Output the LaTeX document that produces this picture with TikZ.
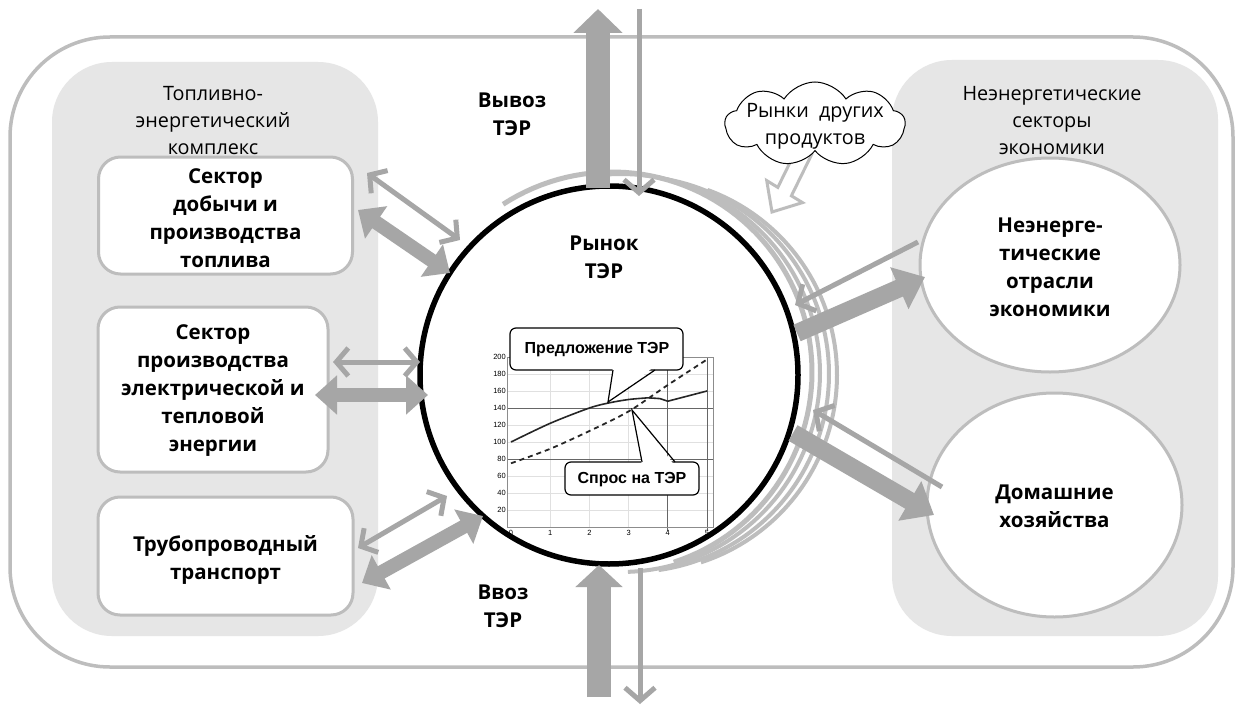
\documentclass[tikz,border=0pt]{standalone}
\usepackage{fontspec}
\setmainfont{Open Sans}
\newfontfamily\arialf{Liberation Sans}
\usetikzlibrary{arrows.meta,shapes.geometric,shapes.symbols,calc}
\definecolor{arrgray}{HTML}{A6A6A6}
\definecolor{linegray}{HTML}{BDBDBD}
\definecolor{panelgray}{HTML}{E6E6E6}
\begin{document}
\begin{tikzpicture}[x=1pt,y=-1pt,
  lbl/.style={font=\fontsize{20.5}{28}\selectfont\bfseries, align=center, inner sep=0pt},
  ttl/.style={font=\fontsize{19.8}{27}\selectfont, align=center, inner sep=0pt},
  sectorbox/.style={draw=linegray, line width=3pt, fill=white, rounded corners=22pt, rectangle, inner sep=0pt},
  sectorell/.style={draw=linegray, line width=3pt, fill=white, ellipse, inner sep=0pt},
  panel/.style={fill=panelgray, rounded corners=60pt},
  thickarr/.style={draw=arrgray, line width=14pt, {Triangle[length=22pt,width=38pt]}-{Triangle[length=22pt,width=38pt]}},
  thickone/.style={draw=arrgray, line width=18pt, -{Triangle[length=28pt,width=44pt]}},
  thinarr/.style={draw=arrgray, line width=5pt, line cap=round, {Straight Barb[length=12pt,width=28pt]}-{Straight Barb[length=12pt,width=28pt]}},
  thinone/.style={draw=arrgray, line width=5pt, -{Straight Barb[length=13pt,width=30pt]}},
  ringarc/.style={draw=linegray, line width=4pt},
  gridl/.style={draw=black!12, line width=0.6pt},
  gridd/.style={draw=black!60, line width=0.8pt},
  axl/.style={font=\arialf\fontsize{7.5}{8}\selectfont, inner sep=1pt},
  callbox/.style={draw=black, line width=1.2pt, fill=white, rounded corners=6pt},
  calltxt/.style={font=\arialf\bfseries\fontsize{16}{18}\selectfont, inner sep=0pt}
]
\useasboundingbox (0,0) rectangle (1239,706);
\fill[white] (0,0) rectangle (1239,706);

% outer frame
\draw[linegray, line width=3.5pt, rounded corners=100pt] (10,37) rectangle (1233,667);

% panels
\fill[panel] (52,62) rectangle (378,636);
\fill[panel] (892,60) rectangle (1218,636);

% panel titles
\node[ttl] (tek) at (213,121) {Топливно-\\энергетический\\комплекс};
\node[ttl] (nes) at (1052,121) {Неэнергетические\\секторы\\экономики};

% sector boxes
\node[sectorbox, minimum width=254pt, minimum height=117pt] (b1) at (225.5,215.5) {};
\node[lbl] at (225.5,218) {Сектор\\добычи и\\производства\\топлива};
\node[sectorbox, minimum width=230pt, minimum height=165pt] (b2) at (213,389.5) {};
\node[lbl] at (213,391) {Сектор\\производства\\электрической и\\тепловой\\энергии};
\node[sectorbox, minimum width=255pt, minimum height=118pt] (b3) at (225.5,556) {};
\node[lbl] at (225.5,560) {Трубопроводный\\транспорт};

% right ellipses
\node[sectorell, minimum width=260pt, minimum height=214pt] (e1) at (1050,265) {};
\node[lbl] at (1050,267) {Неэнерге-\\тические\\отрасли\\экономики};
\node[sectorell, minimum width=255pt, minimum height=224pt] (e2) at (1054.5,505) {};
\node[lbl] at (1054.5,506) {Домашние\\хозяйства};

% gray rings around market
\draw[ringarc, line width=5pt] plot[domain=123:-72, samples=80] ({612+200*cos(\x)},{372-200*sin(\x)});
\draw[ringarc] plot[domain=95:-88, samples=80] ({621+199*cos(\x)},{373-199*sin(\x)});
\draw[ringarc] plot[domain=82:-82, samples=80] ({631+198*cos(\x)},{374-198*sin(\x)});
\draw[ringarc] plot[domain=70:-72, samples=80] ({640+197*cos(\x)},{375-197*sin(\x)});

% market circle
\node[circle, fill=white, minimum size=378pt, inner sep=0pt] (mkt) at (609,375) {};

% chart
\foreach \v in {20,40,...,200} \draw[gridl] (507,{527-0.85*\v}) -- (713,{527-0.85*\v});
\foreach \k in {1,2,3} \draw[gridl] ({511+39.2*\k},357) -- ({511+39.2*\k},527);
\draw[gridd] (507,408) -- (713,408);
\draw[gridd] (507,459) -- (713,459);
\draw[gridd] (667.8,357) -- (667.8,531);
\draw[gridd] (707,357) -- (707,531);
\draw[draw=black!45, line width=0.8pt] (507,357) rectangle (713,527);
\foreach \v in {20,40,...,200} \node[axl, anchor=east] at (507,{527-0.85*\v}) {\v};
\foreach \k in {0,...,5} \node[axl, anchor=north] at ({511+39.2*\k},529) {\k};
\draw[black!85, line width=1.6pt] plot[smooth] coordinates {(511,442) (550.2,423.3) (589.4,408) (609,402.9) (628.6,399.5) (648.2,397.8)} -- (660,398.6) -- (667.8,401.2) -- (707,391);
\draw[black!85, line width=1.8pt, dash pattern=on 5pt off 4pt] plot[smooth] coordinates {(511,463.3) (550.2,448.8) (589.4,431) (628.6,411.4) (667.8,385) (707,359.5)};

% callouts
\draw[callbox] (510,328) rectangle (683,370);
\fill[white] (613,366) -- (608,402) -- (655,366) -- cycle;
\draw[black, line width=1.2pt] (613,370) -- (608,402) -- (655,370);
\node[calltxt] (sup) at (597,350) {Предложение ТЭР};
\draw[callbox] (565,462) rectangle (699,495);
\fill[white] (642,466) -- (632,410) -- (675,466) -- cycle;
\draw[black, line width=1.2pt] (642,462) -- (632,410) -- (675,462);
\node[calltxt] (dem) at (632,479.5) {Спрос на ТЭР};

% market circle outline on top
\draw[black, line width=5.5pt] (mkt.center) circle[radius=189pt];
\node[lbl] (mkttxt) at (604,257) {Рынок\\ТЭР};

% left arrows
\coordinate (l1a) at (367,173); \coordinate (l1b) at (460,240);
\coordinate (l1c) at (358,210); \coordinate (l1d) at (450,273);
\coordinate (l2a) at (333,362); \coordinate (l2b) at (420,362);
\coordinate (l2c) at (315,395); \coordinate (l2d) at (428,395);
\coordinate (l3a) at (358,548); \coordinate (l3b) at (447,496);
\coordinate (l3c) at (362,583); \coordinate (l3d) at (483,516);
\draw[thinarr] (l1a) -- (l1b);
\draw[thickarr] (l1c) -- (l1d);
\draw[thinarr] (l2a) -- (l2b);
\draw[thickarr] (l2c) -- (l2d);
\draw[thinarr] (l3a) -- (l3b);
\draw[thickarr] (l3c) -- (l3d);

% right arrows
\coordinate (r1a) at (918,242); \coordinate (r1b) at (795,305);
\coordinate (r1c) at (797,333); \coordinate (r1d) at (925,277);
\coordinate (r2a) at (942,487); \coordinate (r2b) at (813,410);
\coordinate (r2c) at (793,433); \coordinate (r2d) at (934,515);
\draw[thinone] (r1a) -- (r1b);
\draw[thickone] (r1c) -- (r1d);
\draw[thinone] (r2a) -- (r2b);
\draw[thickone] (r2c) -- (r2d);

% export / import
\coordinate (exA) at (598,188); \coordinate (exB) at (598,9);
\draw[draw=arrgray, line width=24pt, -{Triangle[length=24pt,width=48pt]}] (exA) -- (exB);
\coordinate (imA) at (639,9); \coordinate (imB) at (639,196);
\draw[thinone] (imA) -- (imB);
\coordinate (ibA) at (599,697); \coordinate (ibB) at (599,565);
\draw[draw=arrgray, line width=24pt, -{Triangle[length=22pt,width=46pt]}] (ibA) -- (ibB);
\coordinate (obA) at (640,568); \coordinate (obB) at (640,704);
\draw[thinone] (obA) -- (obB);

\node[lbl] (vyvoz) at (512,114) {Вывоз\\ТЭР};
\node[lbl] (vvoz) at (503,606) {Ввоз\\ТЭР};

% hollow arrow from cloud
\draw[linegray, line width=3pt, fill=white, line join=miter]
  (811.8,154.2) -- (791.4,195.8) -- (802.5,202.6) -- (772,212) -- (766.7,180.6) -- (777.8,187.4) -- (798.2,145.8) -- cycle;

% cloud
\node[cloud, cloud puffs=9, cloud puff arc=115, aspect=2.3, draw=black, line width=1pt, fill=white,
      minimum width=180pt, minimum height=84pt, inner sep=0pt] (cld) at (815,124) {};
\node[ttl] at (815,126) {Рынки~ других\\продуктов};
\end{tikzpicture}
\end{document}
